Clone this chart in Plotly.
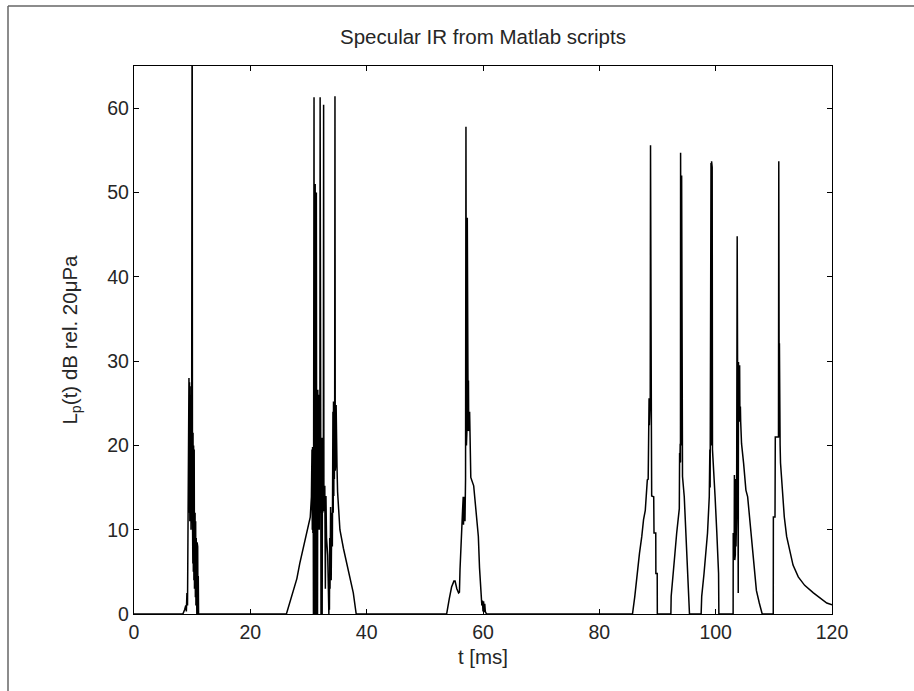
import plotly.graph_objects as go

# ---- data ----
x_ticks = [0, 20, 40, 60, 80, 100, 120]
y_ticks = [0, 10, 20, 30, 40, 50, 60]

t_c0 = [0.0]
lp_c0 = [0.0]

t_c1 = [8.4, 8.7, 8.9, 9.0, 9.1, 9.2, 9.25, 9.3, 9.35, 9.45, 9.5, 9.55, 9.6, 9.65, 9.7,
        9.75, 9.8, 9.85, 9.9, 10.0, 10.05, 10.1, 10.12, 10.15, 10.2, 10.25, 10.3, 10.35,
        10.4, 10.5, 10.55, 10.6, 10.65, 10.7, 10.8, 10.85, 10.9, 10.95, 11.0, 11.05, 11.1]
lp_c1 = [0.0, 0.5, 1.0, 0.3, 2.5, 1.0, 10.5, 2.0, 11.0, 28.0, 12.0, 27.5, 11.0, 27.0, 12.0,
         26.0, 10.0, 21.0, 14.0, 80.0, 12.0, 21.0, 6.0, 21.5, 5.0, 20.0, 4.0, 19.5,
         3.0, 12.0, 2.0, 11.0, 1.0, 9.0, 0.0, 8.5, 0.5, 8.0, 0.0, 4.5, 0.0]

t_c2 = [26.2, 27.1, 28.0, 28.5, 29.1, 29.7, 30.3, 30.5, 30.6, 30.65, 30.7, 30.75, 30.8,
        30.85, 30.9, 30.95, 31.0, 31.05, 31.1, 31.15, 31.2, 31.25, 31.3, 31.35, 31.4,
        31.45, 31.5, 31.55, 31.6, 31.65, 31.7, 31.75, 31.8, 31.85, 31.9, 31.95, 32.0,
        32.05, 32.1, 32.15, 32.2, 32.25, 32.3, 32.35, 32.4, 32.45, 32.5, 32.55, 32.6,
        32.65, 32.7, 32.75, 32.8, 32.9, 33.0, 33.1, 33.3, 33.4, 33.45, 33.5, 33.55, 33.6,
        33.65, 33.7, 33.8, 33.9, 34.0, 34.1, 34.2, 34.25, 34.3, 34.35, 34.4, 34.45, 34.5,
        34.55, 34.6, 34.65, 34.7, 34.75, 34.8, 34.85, 34.9, 35.0, 35.1, 35.4, 36.0, 36.6,
        37.1, 37.7, 38.2]
lp_c2 = [0.0, 2.1, 4.2, 6.0, 7.8, 9.6, 11.5, 13.9, 19.5, 10.0, 19.8, 9.6, 19.5,
         0.0, 15.0, 61.3, 0.0, 18.0, 3.0, 51.0, 0.0, 48.0, 12.0, 50.0, 15.0,
         0.0, 26.0, 0.0, 26.6, 10.0, 26.0, 12.0, 25.0, 10.0, 26.0, 12.0, 61.3,
         11.0, 21.0, 0.0, 20.5, 2.0, 20.9, 0.0, 20.0, 12.0, 20.5, 12.5, 60.4,
         12.2, 20.0, 13.0, 15.2, 3.0, 14.0, 9.0, 7.0, 0.0, 2.5, 0.0, 2.7, 0.5,
         9.0, 3.0, 12.7, 4.0, 12.0, 8.0, 24.0, 12.0, 25.2, 14.0, 25.0, 16.0, 24.5,
         61.4, 17.0, 25.2, 18.0, 24.8, 17.5, 24.0, 17.5, 14.5, 13.0, 10.0, 7.8, 6.0,
         4.2, 2.5, 0.0]

t_c3 = [53.75, 54.2, 54.6, 55.0, 55.2, 55.5, 55.8, 55.95, 56.05, 56.5, 56.6, 56.65, 56.7,
        56.75, 56.8, 56.9, 57.0, 57.07, 57.15, 57.2, 57.25, 57.3, 57.35, 57.4, 57.45,
        57.5, 57.55, 57.6, 57.65, 57.7, 57.8, 57.9, 58.4, 58.9, 59.2, 59.4, 59.7, 59.8,
        59.9, 60.0, 60.1, 60.2, 60.3, 60.4, 60.6]
lp_c3 = [0.0, 1.8, 3.2, 3.9, 3.9, 3.0, 2.5, 2.6, 5.3, 12.5, 13.9, 10.6, 13.9,
         10.6, 13.5, 11.0, 16.0, 57.8, 20.0, 47.8, 22.0, 47.0, 25.0, 28.0, 21.7,
         27.7, 21.7, 27.5, 22.0, 24.0, 18.0, 16.2, 15.2, 11.1, 9.2, 5.5, 1.8, 1.0,
         1.6, 0.3, 1.5, 0.2, 1.2, 0.3, 0.0]

t_c4 = [85.7, 86.1, 86.5, 86.9, 87.3, 87.6, 87.9, 88.05, 88.25, 88.4, 88.45, 88.5, 88.55,
        88.6, 88.65, 88.7, 88.75, 88.8, 88.85, 88.9, 88.95, 89.0, 89.35, 89.4, 89.7,
        89.72, 89.95, 89.97]
lp_c4 = [0.0, 2.1, 4.8, 7.2, 9.2, 11.2, 12.3, 13.5, 15.9, 16.0, 24.6, 22.4, 25.6,
         22.4, 25.6, 23.0, 25.6, 55.6, 22.5, 25.0, 22.4, 14.0, 13.9, 9.6, 9.6,
         4.8, 4.8, 0.0]

t_c5 = [92.3, 92.35, 92.6, 93.0, 93.3, 93.6, 93.75, 93.8, 93.85, 93.9, 93.95, 93.97, 94.0,
        94.05, 94.1, 94.15, 94.2, 94.25, 94.3, 94.6, 94.9, 95.2, 95.5]
lp_c5 = [0.0, 2.1, 4.4, 7.2, 9.6, 12.3, 12.5, 19.1, 17.9, 20.2, 18.0, 54.7, 20.0,
         52.7, 20.0, 52.0, 19.8, 17.5, 16.3, 13.9, 9.6, 4.8, 0.0]

t_c6 = [97.5, 97.6, 98.0, 98.3, 98.6, 98.9, 99.0, 99.05, 99.1, 99.15, 99.2, 99.25, 99.3,
        99.35, 99.4, 99.45, 99.55, 99.9, 100.2, 100.5, 100.55]
lp_c6 = [0.0, 2.1, 4.8, 7.2, 9.6, 13.9, 19.5, 15.0, 53.2, 19.0, 53.5, 20.0, 53.7,
         20.5, 53.0, 19.5, 17.9, 13.9, 9.6, 4.8, 0.0]

t_c7 = [103.0, 103.02, 103.08, 103.12, 103.18, 103.22, 103.28, 103.32, 103.38, 103.45,
        103.5, 103.6, 103.7, 103.75, 103.8, 103.85, 103.88, 103.92, 103.97, 104.02,
        104.07, 104.12, 104.17, 104.25, 104.3, 104.45, 104.8, 105.2, 105.5, 105.8,
        106.1, 106.4, 106.7, 107.0, 107.5, 108.0]
lp_c7 = [0.0, 9.6, 6.4, 9.6, 6.4, 16.5, 6.4, 16.5, 7.0, 16.0,
         8.0, 12.0, 44.8, 30.0, 44.8, 22.8, 2.5, 29.9, 22.8, 29.9,
         22.8, 29.5, 23.0, 24.6, 22.8, 20.2, 17.9, 14.7, 13.9, 11.5,
         9.2, 6.8, 4.4, 2.8, 1.3, 0.0]

t_c8 = [109.9, 109.92, 110.2, 110.25, 110.8, 110.85, 110.9, 110.93, 110.96, 111.0, 111.03,
        111.08, 111.15, 111.5, 111.8, 112.2, 112.8, 113.3, 114.2, 115.3, 116.8, 118.0,
        119.1, 120.0]
lp_c8 = [0.0, 11.5, 11.5, 21.0, 21.0, 53.7, 32.1, 21.0, 32.1, 21.0, 32.0,
         20.0, 17.9, 13.9, 11.5, 9.2, 7.2, 5.8, 4.4, 3.4, 2.5, 1.9,
         1.3, 1.1]

t_ms = t_c0 + t_c1 + t_c2 + t_c3 + t_c4 + t_c5 + t_c6 + t_c7 + t_c8
lp_db = lp_c0 + lp_c1 + lp_c2 + lp_c3 + lp_c4 + lp_c5 + lp_c6 + lp_c7 + lp_c8

FONT = "Liberation Sans, Arial, sans-serif"
TXT = "#262626"
TICK_SIZE = 19.5
LABEL_SIZE = 20.5

fig = go.Figure()
fig.add_trace(go.Scatter(x=t_ms, y=lp_db, mode="lines",
                         line=dict(color="black", width=1.5), showlegend=False))

W, H = 914, 691
L, R, T, B = 134, 82, 66, 77
pw, ph = W - L - R, H - T - B

def px_x(p):
    return (p - L) / pw

def px_y(p):
    return (H - B - p) / ph

fig.update_layout(
    width=W, height=H,
    margin=dict(l=L, r=R, t=T, b=B, autoexpand=False),
    paper_bgcolor="white", plot_bgcolor="white",
    font=dict(family=FONT, size=TICK_SIZE, color=TXT),
    showlegend=False,
    title=dict(text="Specular IR from Matlab scripts", x=0.5, xref="paper",
               xanchor="center", y=1 - 37 / H, yref="container", yanchor="middle",
               font=dict(family=FONT, size=LABEL_SIZE, color=TXT)),
    xaxis=dict(range=[0, 120], tickvals=x_ticks, ticks="inside", ticklen=5,
               tickcolor="black", showline=True, linecolor="black", linewidth=1.3,
               mirror="ticks", showgrid=False, zeroline=False,
               tickfont=dict(family=FONT, size=TICK_SIZE, color=TXT),
               title=dict(text="t [ms]", standoff=8,
                          font=dict(family=FONT, size=LABEL_SIZE, color=TXT))),
    yaxis=dict(range=[0, 65], tickvals=y_ticks, ticks="inside", ticklen=5,
               tickcolor="black", showline=True, linecolor="black", linewidth=1.3,
               mirror="ticks", showgrid=False, zeroline=False,
               tickfont=dict(family=FONT, size=TICK_SIZE, color=TXT),
               title=dict(text="L<sub>p</sub>(t) dB rel. 20μPa", standoff=24,
                          font=dict(family=FONT, size=LABEL_SIZE, color=TXT))),
)

# outer figure frame (top and left edges visible in the reference)
fig.add_shape(type="line", xref="paper", yref="paper",
              x0=px_x(8), x1=px_x(914), y0=px_y(6), y1=px_y(6),
              line=dict(color="#666666", width=1.5))
fig.add_shape(type="line", xref="paper", yref="paper",
              x0=px_x(8), x1=px_x(8), y0=px_y(6), y1=px_y(691),
              line=dict(color="#666666", width=1.5))

fig.write_html("out.html")
